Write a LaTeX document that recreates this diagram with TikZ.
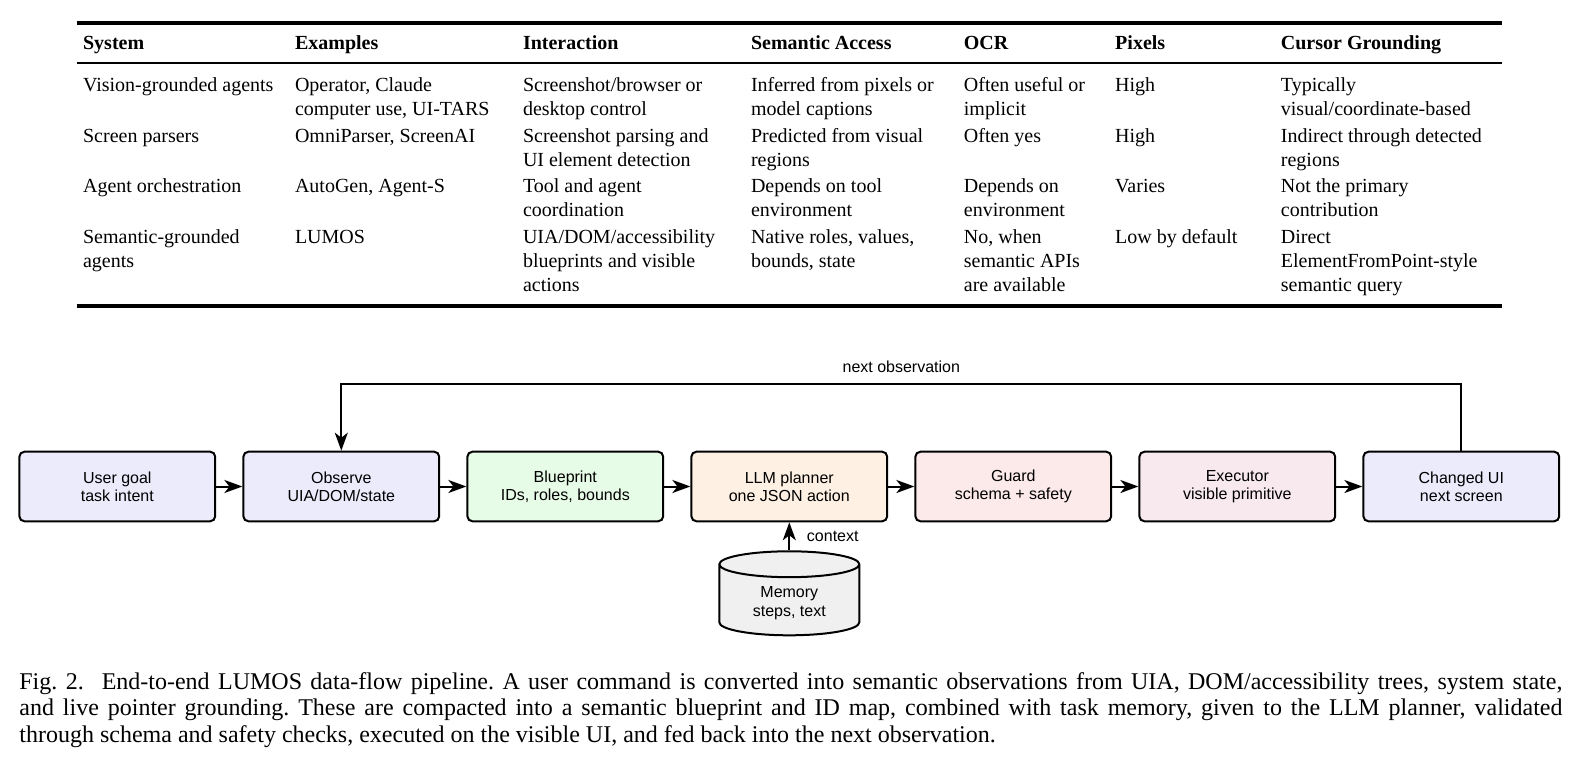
\documentclass[tikz,border=0pt]{standalone}
\usepackage{fontspec}
\setmainfont{Liberation Serif}
\newfontfamily\diagfont{Liberation Sans}
\usetikzlibrary{positioning,calc,arrows.meta,shapes.geometric}
\definecolor{goalblue}{RGB}{235,235,252}
\definecolor{bpgreen}{RGB}{231,252,231}
\definecolor{llmorange}{RGB}{254,241,227}
\definecolor{guardpink}{RGB}{252,233,233}
\definecolor{execpink}{RGB}{248,233,239}
\definecolor{memgray}{RGB}{240,240,240}
\newcommand{\tabfont}{\fontsize{10}{12}\selectfont}
\newcommand{\diagsize}{\diagfont\fontsize{8}{9.2}\selectfont}
\newcommand{\cellt}[1]{\begin{tabular}[t]{@{}l@{}}#1\end{tabular}}
\tikzset{tcell/.style={anchor=base west, inner sep=0pt, font=\tabfont}}
\tikzset{thead/.style={tcell, font=\tabfont\bfseries}}
\tikzset{stage/.style={draw, line width=1pt, rounded corners=2.5pt, minimum width=97.9pt, minimum height=34.8pt, align=center, font=\diagsize}}
\tikzset{arr/.style={draw, line width=1pt, -{Stealth[length=9pt,width=6.5pt,inset=2.5pt]}}}
\tikzset{lbl/.style={font=\diagsize}}
\begin{document}
\begin{tikzpicture}[x=0.5pt, y=-0.5pt]
\useasboundingbox (0,0) rectangle (1582,764);
% comparison table
\draw[line width=1.8pt] (76.7,23.3) -- (1501.7,23.3);
\draw[line width=1.2pt] (76.7,63.3) -- (1501.7,63.3);
\draw[line width=1.8pt] (76.7,306) -- (1501.7,306);
\node[thead] (hsys) at (82.7,50) {System};
\node[thead] (hex) at (294.6,50) {Examples};
\node[thead] (hint) at (522.6,50) {Interaction};
\node[thead] (hsem) at (750.6,50) {Semantic Access};
\node[thead] (hocr) at (963.5,50) {OCR};
\node[thead] (hpix) at (1114.8,50) {Pixels};
\node[thead] (hcur) at (1280.5,50) {Cursor Grounding};
\node[tcell] (sys1) at (82.7,92) {Vision-grounded agents};
\node[tcell] (ex1) at (294.6,92) {\cellt{Operator, Claude\\computer use, UI-TARS}};
\node[tcell] (int1) at (522.6,92) {\cellt{Screenshot/browser or\\desktop control}};
\node[tcell] (sem1) at (750.6,92) {\cellt{Inferred from pixels or\\model captions}};
\node[tcell] (ocr1) at (963.5,92) {\cellt{Often useful or\\implicit}};
\node[tcell] (pix1) at (1114.8,92) {High};
\node[tcell] (cur1) at (1280.5,92) {\cellt{Typically\\visual/coordinate-based}};
\node[tcell] (sys2) at (82.7,142.5) {Screen parsers};
\node[tcell] (ex2) at (294.6,142.5) {OmniParser, ScreenAI};
\node[tcell] (int2) at (522.6,142.5) {\cellt{Screenshot parsing and\\UI element detection}};
\node[tcell] (sem2) at (750.6,142.5) {\cellt{Predicted from visual\\regions}};
\node[tcell] (ocr2) at (963.5,142.5) {Often yes};
\node[tcell] (pix2) at (1114.8,142.5) {High};
\node[tcell] (cur2) at (1280.5,142.5) {\cellt{Indirect through detected\\regions}};
\node[tcell] (sys3) at (82.7,193) {Agent orchestration};
\node[tcell] (ex3) at (294.6,193) {AutoGen, Agent-S};
\node[tcell] (int3) at (522.6,193) {\cellt{Tool and agent\\coordination}};
\node[tcell] (sem3) at (750.6,193) {\cellt{Depends on tool\\environment}};
\node[tcell] (ocr3) at (963.5,193) {\cellt{Depends on\\environment}};
\node[tcell] (pix3) at (1114.8,193) {Varies};
\node[tcell] (cur3) at (1280.5,193) {\cellt{Not the primary\\contribution}};
\node[tcell] (sys4) at (82.7,243.5) {\cellt{Semantic-grounded\\agents}};
\node[tcell] (ex4) at (294.6,243.5) {LUMOS};
\node[tcell] (int4) at (522.6,243.5) {\cellt{UIA/DOM/accessibility\\blueprints and visible\\actions}};
\node[tcell] (sem4) at (750.6,243.5) {\cellt{Native roles, values,\\bounds, state}};
\node[tcell] (ocr4) at (963.5,243.5) {\cellt{No, when\\semantic APIs\\are available}};
\node[tcell] (pix4) at (1114.8,243.5) {Low by default};
\node[tcell] (cur4) at (1280.5,243.5) {\cellt{Direct\\ElementFromPoint-style\\semantic query}};
% pipeline
\node[stage, fill=goalblue] (goal) at (117.3,486.5) {User goal\\task intent};
\node[stage, fill=goalblue, right=13.1pt of goal] (obs) {Observe\\UIA/DOM/state};
\node[stage, fill=bpgreen, right=13.1pt of obs] (bp) {Blueprint\\IDs, roles, bounds};
\node[stage, fill=llmorange, right=13.1pt of bp] (llm) {LLM planner\\one JSON action};
\node[stage, fill=guardpink, right=13.1pt of llm] (guard) {Guard\\schema + safety};
\node[stage, fill=execpink, right=13.1pt of guard] (exec) {Executor\\visible primitive};
\node[stage, fill=goalblue, right=13.1pt of exec] (chg) {Changed UI\\next screen};
\node[cylinder, shape border rotate=90, draw, line width=1pt, aspect=0.3, minimum width=70pt, minimum height=42pt, cylinder uses custom fill, cylinder body fill=memgray, cylinder end fill=memgray, align=center, font=\diagsize, below=14pt of llm] (mem) {Memory\\steps, text};
\draw[arr] (goal) -- (obs);
\draw[arr] (obs) -- (bp);
\draw[arr] (bp) -- (llm);
\draw[arr] (llm) -- (guard);
\draw[arr] (guard) -- (exec);
\draw[arr] (exec) -- (chg);
\draw[arr] (mem) -- node[lbl, right=5pt]{context} (llm);
\draw[arr] (chg.north) -- ++(0,-67) -| node[lbl, pos=0.25, above=1.5pt]{next observation} (obs.north);
% caption
\node[anchor=base west, inner sep=0pt] (cap) at (19,689) {\parbox[t]{771.5pt}{\fontsize{12}{13.3}\selectfont\frenchspacing
Fig.~2.\hspace{0.75em}End-to-end LUMOS data-flow pipeline. A user command is converted into semantic observations from UIA, DOM/accessibility trees, system state,\linebreak
and live pointer grounding. These are compacted into a semantic blueprint and ID map, combined with task memory, given to the LLM planner, validated\linebreak
through schema and safety checks, executed on the visible UI, and fed back into the next observation.}};
\end{tikzpicture}
\end{document}
